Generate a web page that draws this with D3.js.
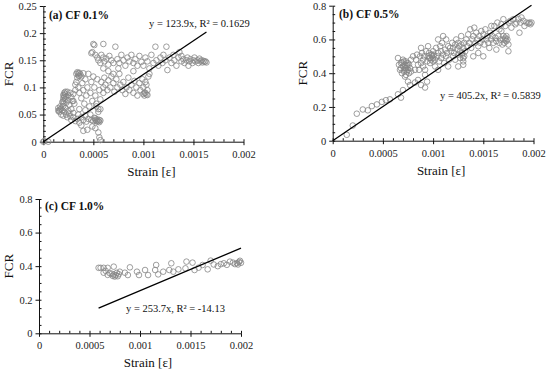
<!DOCTYPE html>
<html>
<head>
<meta charset="utf-8">
<script src="https://cdn.jsdelivr.net/npm/d3@7"></script>
<style>
  body { margin: 0; background: #fff; }
  svg { display: block; }
</style>
</head>
<body>
<div id="chart"></div>
<script>
const FONT = "Liberation Serif, Times New Roman, serif";

// panel titles and fit annotations
const panelTitles = ["(a) CF 0.1%", "(b) CF 0.5%", "(c) CF 1.0%"];
const fitSlopes = [123.9, 405.2, 253.7];
const fitR2 = ["0.1629", "0.5839", "-14.13"];

// tick values / labels
const xTickValues = [0, 0.0005, 0.001, 0.0015, 0.002];
const xTickLabels = ["0", "0.0005", "0.001", "0.0015", "0.002"];
const yTickValuesA = [0, 0.05, 0.1, 0.15, 0.2, 0.25];
const yTickLabelsA = ["0", "0.05", "0.1", "0.15", "0.2", "0.25"];
const yTickValuesBC = [0, 0.2, 0.4, 0.6, 0.8];
const yTickLabelsBC = ["0", "0.2", "0.4", "0.6", "0.8"];

// (a) CF 0.1%  [strain, FCR]
const pointsA = [
  [0, 0], [0.00001, 0.001], [0.00005, 0],
  [0.00015, 0.062], [0.00016, 0.055], [0.00017, 0.06], [0.00018, 0.05], [0.00019, 0.058],
  [0.0002, 0.048], [0.00021, 0.055], [0.00022, 0.062], [0.00023, 0.05], [0.00024, 0.045],
  [0.00025, 0.057], [0.00026, 0.052], [0.00027, 0.047], [0.00028, 0.06], [0.0003, 0.053],
  [0.00017, 0.065], [0.0002, 0.066], [0.00016, 0.058], [0.00018, 0.061], [0.00015, 0.057],
  [0.0002, 0.07], [0.0002, 0.075], [0.0002, 0.08], [0.00021, 0.085], [0.00021, 0.09],
  [0.00022, 0.078], [0.00022, 0.088], [0.00023, 0.072], [0.00023, 0.083], [0.00024, 0.092],
  [0.00025, 0.086], [0.00025, 0.076], [0.00026, 0.068], [0.00027, 0.09], [0.00028, 0.082],
  [0.00029, 0.075], [0.0003, 0.088], [0.00031, 0.07], [0.00032, 0.095], [0.00019, 0.073],
  [0.00021, 0.082], [0.00022, 0.092], [0.0002, 0.086],
  [0.00028, 0.04], [0.0003, 0.045], [0.00032, 0.038], [0.00034, 0.042], [0.00035, 0.05],
  [0.00036, 0.035], [0.00038, 0.045], [0.0004, 0.04], [0.00042, 0.048], [0.00043, 0.037],
  [0.00045, 0.042], [0.00047, 0.05], [0.00048, 0.04], [0.0005, 0.038], [0.00051, 0.044],
  [0.00052, 0.04], [0.00053, 0.038], [0.00054, 0.041], [0.00055, 0.038], [0.00056, 0.04],
  [0.00057, 0.039], [0.00055, 0.055], [0.00057, 0.06], [0.00053, 0.065],
  [0.00054, 0.037], [0.00056, 0.036], [0.00052, 0.043],
  [0.0004, 0.02], [0.00044, 0.022], [0.00049, 0.028], [0.00052, 0.025], [0.00055, 0.017],
  [0.00056, 0.008], [0.00057, 0.003], [0.00038, 0.03],
  [0.00033, 0.125], [0.00034, 0.128], [0.00035, 0.122], [0.00036, 0.127], [0.00037, 0.124],
  [0.00038, 0.12], [0.0004, 0.126], [0.00034, 0.118], [0.00035, 0.126], [0.00036, 0.121],
  [0.00032, 0.105], [0.00033, 0.11], [0.00035, 0.1], [0.00036, 0.09], [0.00038, 0.08],
  [0.00039, 0.108], [0.0004, 0.095], [0.00041, 0.07], [0.00042, 0.115], [0.00043, 0.085],
  [0.00044, 0.1], [0.00045, 0.125], [0.00046, 0.065], [0.00047, 0.09], [0.00048, 0.11],
  [0.00049, 0.075], [0.0005, 0.12], [0.00051, 0.1], [0.00052, 0.085], [0.00053, 0.07],
  [0.00054, 0.115], [0.00055, 0.06], [0.00056, 0.095], [0.00057, 0.078], [0.00036, 0.06],
  [0.0003, 0.075], [0.00042, 0.058],
  [0.00058, 0.11], [0.0006, 0.1], [0.00061, 0.118], [0.00062, 0.105], [0.00064, 0.095],
  [0.00065, 0.113], [0.00067, 0.1], [0.00068, 0.12], [0.0007, 0.108], [0.00071, 0.092],
  [0.00073, 0.115], [0.00074, 0.1], [0.00076, 0.125], [0.00077, 0.105], [0.00079, 0.095],
  [0.0008, 0.11], [0.00082, 0.088], [0.00083, 0.1], [0.00085, 0.118], [0.00086, 0.095],
  [0.00088, 0.105], [0.0009, 0.09], [0.00091, 0.112], [0.00093, 0.1], [0.00094, 0.085],
  [0.00096, 0.108], [0.00097, 0.095], [0.00099, 0.115], [0.001, 0.088], [0.001, 0.1],
  [0.00101, 0.085], [0.00102, 0.09], [0.00103, 0.087], [0.00104, 0.095], [0.00102, 0.11],
  [0.00105, 0.12], [0.00103, 0.105], [0.00065, 0.13], [0.0007, 0.125], [0.0006, 0.09],
  [0.00106, 0.125], [0.00101, 0.09], [0.00104, 0.086],
  [0.00048, 0.163], [0.00049, 0.165], [0.0005, 0.18], [0.00051, 0.178], [0.0006, 0.18],
  [0.00052, 0.16], [0.00054, 0.155], [0.00055, 0.15], [0.00057, 0.145], [0.00058, 0.16],
  [0.0006, 0.155], [0.00061, 0.148], [0.00063, 0.153], [0.00065, 0.142], [0.00066, 0.158],
  [0.00068, 0.15], [0.0007, 0.145], [0.00072, 0.175], [0.00074, 0.152], [0.00076, 0.145],
  [0.00078, 0.16], [0.0008, 0.15], [0.00082, 0.14], [0.00084, 0.155], [0.00086, 0.148],
  [0.00088, 0.16], [0.0009, 0.145], [0.00092, 0.152], [0.00094, 0.14], [0.00096, 0.158],
  [0.00098, 0.147], [0.0006, 0.135], [0.00075, 0.135], [0.0009, 0.13],
  [0.001, 0.14], [0.00102, 0.155], [0.00104, 0.148], [0.00106, 0.135], [0.00108, 0.16],
  [0.0011, 0.145], [0.00112, 0.175], [0.00113, 0.15], [0.00115, 0.14], [0.00117, 0.155],
  [0.00119, 0.145], [0.0012, 0.16], [0.00122, 0.15], [0.00123, 0.175], [0.00124, 0.132],
  [0.00126, 0.155], [0.00128, 0.145], [0.0013, 0.16], [0.00131, 0.15], [0.00133, 0.14],
  [0.00135, 0.155], [0.00136, 0.165], [0.00138, 0.148], [0.0014, 0.152], [0.00141, 0.145],
  [0.00143, 0.15], [0.00144, 0.155], [0.00146, 0.148], [0.00147, 0.152], [0.00149, 0.145],
  [0.0015, 0.15], [0.00151, 0.155], [0.00152, 0.148], [0.00154, 0.15], [0.00155, 0.145],
  [0.00156, 0.153], [0.00157, 0.148], [0.00158, 0.15], [0.00159, 0.146], [0.0016, 0.149],
  [0.00161, 0.147], [0.00162, 0.148], [0.00163, 0.146], [0.00145, 0.14], [0.00138, 0.158]
];

// (b) CF 0.5%
const pointsB = [
  [0.00014, 0.035], [0.0002, 0.09], [0.00024, 0.16], [0.0003, 0.185], [0.00035, 0.18],
  [0.00039, 0.205], [0.00044, 0.215], [0.00049, 0.23], [0.00053, 0.24], [0.00057, 0.245],
  [0.00065, 0.275], [0.00068, 0.255], [0.0007, 0.3], [0.00077, 0.33], [0.00082, 0.345],
  [0.00088, 0.33], [0.00092, 0.315], [0.00085, 0.36], [0.00094, 0.35], [0.00075, 0.35],
  [0.00065, 0.49], [0.00066, 0.45], [0.00067, 0.42], [0.00068, 0.46], [0.00069, 0.4],
  [0.0007, 0.44], [0.0007, 0.48], [0.00071, 0.42], [0.00072, 0.45], [0.00072, 0.38],
  [0.00073, 0.43], [0.00073, 0.47], [0.00074, 0.41], [0.00074, 0.44], [0.00075, 0.46],
  [0.00075, 0.42], [0.00076, 0.4], [0.00076, 0.45], [0.00077, 0.43], [0.00078, 0.48],
  [0.00078, 0.41], [0.0008, 0.5], [0.00068, 0.43], [0.00071, 0.47], [0.00073, 0.39],
  [0.00069, 0.465], [0.00072, 0.43], [0.00074, 0.45], [0.00071, 0.41],
  [0.00082, 0.42], [0.00083, 0.48], [0.00084, 0.51], [0.00085, 0.45], [0.00086, 0.42],
  [0.00087, 0.5], [0.00088, 0.46], [0.00089, 0.52], [0.0009, 0.44], [0.0009, 0.48],
  [0.00091, 0.5], [0.00092, 0.42], [0.00093, 0.53], [0.00094, 0.47], [0.00095, 0.5],
  [0.00096, 0.49], [0.00096, 0.52], [0.00097, 0.46], [0.00098, 0.51], [0.00098, 0.48],
  [0.00099, 0.5], [0.001, 0.53], [0.001, 0.47], [0.001, 0.49], [0.00101, 0.51],
  [0.00102, 0.48], [0.00102, 0.44], [0.00103, 0.55], [0.00104, 0.5], [0.00105, 0.52],
  [0.00106, 0.47], [0.00107, 0.56], [0.00108, 0.49], [0.00108, 0.53], [0.00109, 0.58],
  [0.0011, 0.51], [0.00111, 0.46], [0.00112, 0.54], [0.00113, 0.6], [0.00113, 0.5],
  [0.00114, 0.52], [0.00115, 0.56], [0.00116, 0.48], [0.00117, 0.55], [0.00118, 0.53],
  [0.00119, 0.58], [0.0012, 0.5], [0.0012, 0.55], [0.00121, 0.52], [0.00122, 0.57],
  [0.00122, 0.48], [0.00123, 0.6], [0.00124, 0.54], [0.00125, 0.51], [0.00125, 0.58],
  [0.00126, 0.56], [0.00127, 0.49], [0.00127, 0.53], [0.00128, 0.57], [0.00129, 0.52],
  [0.0013, 0.55], [0.0013, 0.47], [0.00131, 0.5], [0.00131, 0.58], [0.00132, 0.53],
  [0.0013, 0.45], [0.00128, 0.62], [0.0011, 0.62], [0.00105, 0.6], [0.00095, 0.56],
  [0.00088, 0.55], [0.00115, 0.44], [0.00092, 0.39], [0.00105, 0.42], [0.00125, 0.44],
  [0.00099, 0.51], [0.00097, 0.49], [0.0013, 0.49], [0.00129, 0.51],
  [0.00133, 0.6], [0.00134, 0.56], [0.00135, 0.63], [0.00136, 0.58], [0.00137, 0.66],
  [0.00138, 0.55], [0.00139, 0.6], [0.0014, 0.62], [0.00141, 0.67], [0.00142, 0.58],
  [0.00143, 0.64], [0.00144, 0.6], [0.00145, 0.56], [0.00146, 0.62], [0.00147, 0.58],
  [0.00148, 0.65], [0.00149, 0.6], [0.0015, 0.5], [0.0015, 0.63], [0.00151, 0.57],
  [0.00152, 0.66], [0.00153, 0.6], [0.00154, 0.62], [0.00155, 0.58], [0.00156, 0.55],
  [0.00157, 0.64], [0.00158, 0.6], [0.00159, 0.62], [0.0016, 0.58], [0.00161, 0.68],
  [0.00162, 0.61], [0.00163, 0.59], [0.00164, 0.7], [0.00165, 0.62], [0.00166, 0.58],
  [0.00167, 0.6], [0.00168, 0.65], [0.00169, 0.57], [0.0017, 0.6], [0.0017, 0.62],
  [0.00171, 0.58], [0.00172, 0.6], [0.00172, 0.61], [0.00173, 0.59], [0.00173, 0.62],
  [0.00174, 0.6], [0.00175, 0.57], [0.00175, 0.53], [0.00166, 0.66], [0.00168, 0.69],
  [0.0017, 0.72], [0.00172, 0.68], [0.00175, 0.7], [0.00177, 0.71], [0.00178, 0.67],
  [0.0018, 0.72], [0.00182, 0.69], [0.00183, 0.7], [0.00185, 0.72], [0.00187, 0.7],
  [0.00188, 0.73], [0.0019, 0.71], [0.00191, 0.68], [0.00193, 0.7], [0.00195, 0.695],
  [0.00196, 0.7], [0.00197, 0.69], [0.00198, 0.7], [0.00186, 0.64], [0.00158, 0.68],
  [0.00145, 0.52], [0.0014, 0.5], [0.00163, 0.54]
];

// (c) CF 1.0%
const pointsC = [
  [0.00059, 0.39], [0.00061, 0.39], [0.00064, 0.39], [0.00068, 0.39], [0.00074, 0.397],
  [0.00064, 0.361], [0.00066, 0.372], [0.00068, 0.348], [0.0007, 0.358],
  [0.00072, 0.355], [0.00073, 0.342], [0.00074, 0.35], [0.00075, 0.338], [0.00076, 0.346],
  [0.00077, 0.36], [0.00078, 0.34], [0.00079, 0.352],
  [0.0008, 0.367], [0.00085, 0.361], [0.0009, 0.393], [0.00088, 0.347],
  [0.00097, 0.367], [0.00099, 0.347], [0.00105, 0.377], [0.00108, 0.347],
  [0.00116, 0.407], [0.00115, 0.377], [0.00118, 0.351], [0.00123, 0.367],
  [0.00131, 0.417], [0.00129, 0.377], [0.00133, 0.367], [0.00138, 0.381],
  [0.00145, 0.387], [0.00146, 0.427], [0.00152, 0.421], [0.00154, 0.377], [0.00158, 0.391],
  [0.00162, 0.407], [0.00167, 0.381], [0.0017, 0.433], [0.00173, 0.41],
  [0.00177, 0.4], [0.0018, 0.412], [0.00183, 0.417], [0.00186, 0.408], [0.00189, 0.427],
  [0.00192, 0.421], [0.00194, 0.412], [0.00196, 0.418], [0.00198, 0.425], [0.002, 0.42],
  [0.00197, 0.41], [0.00199, 0.432]
];

const panels = [
  { points: pointsA, yMax: 0.25, yTicks: yTickValuesA, yLabels: yTickLabelsA, yMinor: 0.01,
    left: 43.3, right: 243.5, top: 6, bottom: 141.7, ylabX: 9,
    titleX: 49, titleY: 19, eqX: 149, eqY: 27, fitFromZero: true },
  { points: pointsB, yMax: 0.8, yTicks: yTickValuesBC, yLabels: yTickLabelsBC, yMinor: 0.05,
    left: 332.7, right: 533.5, top: 5.7, bottom: 140.7, ylabX: 303,
    titleX: 339, titleY: 18, eqX: 440, eqY: 99, fitFromZero: true },
  { points: pointsC, yMax: 0.8, yTicks: yTickValuesBC, yLabels: yTickLabelsBC, yMinor: 0.05,
    left: 39, right: 241, top: 199, bottom: 333.3, ylabX: 9,
    titleX: 45, titleY: 210, eqX: 126, eqY: 312, fitFromZero: false }
];

const svg = d3.select("#chart").append("svg")
  .attr("width", 550).attr("height", 372)
  .attr("font-family", FONT);

panels.forEach((p, i) => {
  const x = d3.scaleLinear().domain([0, 0.002]).range([p.left, p.right]);
  const y = d3.scaleLinear().domain([0, p.yMax]).range([p.bottom, p.top]);
  const g = svg.append("g");

  // minor ticks (inside)
  g.append("g")
    .attr("transform", `translate(0,${p.bottom})`)
    .call(d3.axisBottom(x).tickValues(d3.range(0, 0.00201, 0.0001)).tickSize(-2.5).tickFormat(""))
    .call(a => a.select(".domain").remove());
  g.append("g")
    .attr("transform", `translate(${p.left},0)`)
    .call(d3.axisLeft(y).tickValues(d3.range(0, p.yMax + 1e-9, p.yMinor)).tickSize(-2.5).tickFormat(""))
    .call(a => a.select(".domain").remove());

  // major axes
  const xa = g.append("g")
    .attr("transform", `translate(0,${p.bottom})`)
    .call(d3.axisBottom(x).tickValues(xTickValues).tickSizeInner(3.5).tickSizeOuter(0).tickPadding(5)
      .tickFormat((d, k) => xTickLabels[k]));
  const ya = g.append("g")
    .attr("transform", `translate(${p.left},0)`)
    .call(d3.axisLeft(y).tickValues(p.yTicks).tickSizeInner(3.5).tickSizeOuter(0).tickPadding(3)
      .tickFormat((d, k) => p.yLabels[k]));
  [xa, ya].forEach(a => {
    a.attr("font-family", FONT);
    a.selectAll("text").attr("font-size", 10.5).attr("fill", "#222");
    a.selectAll("line,path").attr("stroke", "#111");
  });
  g.selectAll(".tick line").attr("stroke", "#111");

  // scatter
  g.append("g").selectAll("circle")
    .data(p.points)
    .join("circle")
    .attr("cx", d => x(d[0]))
    .attr("cy", d => y(d[1]))
    .attr("r", 2.8)
    .attr("fill", "none")
    .attr("stroke", "#858585")
    .attr("stroke-width", 0.8);

  // linear fit through origin
  const xs = p.points.map(d => d[0]);
  const x0 = p.fitFromZero ? 0 : d3.min(xs);
  const x1 = d3.max(xs);
  g.append("line")
    .attr("x1", x(x0)).attr("y1", y(fitSlopes[i] * x0))
    .attr("x2", x(x1)).attr("y2", y(fitSlopes[i] * x1))
    .attr("stroke", "#000").attr("stroke-width", 1.3);

  g.append("text")
    .attr("x", p.eqX).attr("y", p.eqY)
    .attr("font-size", 10.5).attr("fill", "#111")
    .text(`y = ${fitSlopes[i]}x, R² = ${fitR2[i]}`);

  g.append("text")
    .attr("x", p.titleX).attr("y", p.titleY)
    .attr("font-size", 11.5).attr("font-weight", "bold").attr("fill", "#111")
    .text(panelTitles[i]);

  g.append("text")
    .attr("transform", `translate(${p.ylabX + 4},${(p.top + p.bottom) / 2}) rotate(-90)`)
    .attr("text-anchor", "middle")
    .attr("font-size", 13).attr("fill", "#111")
    .text("FCR");

  g.append("text")
    .attr("x", (p.left + p.right) / 2 + 8).attr("y", p.bottom + 34)
    .attr("text-anchor", "middle")
    .attr("font-size", 13).attr("fill", "#111")
    .text("Strain [ε]");
});
</script>
</body>
</html>
